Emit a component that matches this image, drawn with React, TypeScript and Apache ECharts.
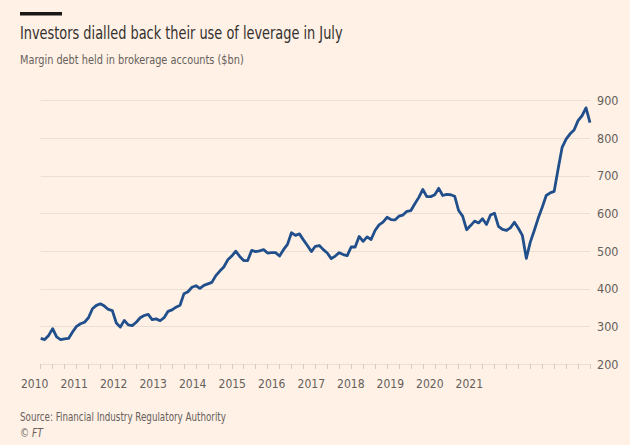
import React, { useEffect, useRef } from "react";
import * as echarts from "echarts";

// Year tick labels (as printed under the axis)
const yearLabels = ["2010", "2011", "2012", "2013", "2014", "2015", "2016", "2017", "2018", "2019", "2020", "2021"];

// Monthly margin debt ($bn), Jan 2010 – Jul 2021
const marginDebt = [
  268, 265, 276, 294, 272, 265, 267, 268, 285, 300, 307, 311,
  323, 347, 356, 360, 354, 345, 342, 309, 298, 316, 304, 302,
  311, 323, 329, 332, 318, 320, 315, 323, 340, 344, 351, 356,
  387, 392, 404, 408, 401, 409, 413, 417, 435, 447, 458, 477,
  487, 500, 486, 475, 475, 502, 499, 501, 504, 495, 496, 496,
  487, 504, 518, 549, 542, 546, 530, 515, 499, 513, 515, 504,
  495, 480, 487, 496, 491, 488, 511, 511, 539, 526, 538, 531,
  555, 570, 577, 590, 584, 583, 593, 596, 606, 608, 626, 643,
  664, 645, 645, 650, 667, 648, 651, 650, 646, 608, 593, 557,
  568, 580, 575, 586, 571, 596, 601, 566, 558, 555, 562, 577,
  561, 542, 481, 524, 555, 588, 617, 648, 655, 659, 719, 776,
  798, 812, 822, 847, 860, 881, 842,
];

const monthCategories: string[] = [];
for (let y = 2010; y <= 2021; y++) {
  for (let m = 1; m <= 12; m++) {
    if (monthCategories.length >= marginDebt.length) break;
    monthCategories.push(`${y}-${String(m).padStart(2, "0")}`);
  }
}

const yMin = 200;
const yMax = 900;
const yStep = 100;

const FONT = "'DejaVu Sans Condensed', Lato, sans-serif";
const BG = "#fff1e5";
const GREY = "#66605c";

export default function App() {
  const ref = useRef<HTMLDivElement>(null);
  useEffect(() => {
    if (!ref.current) return;
    const chart = echarts.init(ref.current, undefined, { renderer: "svg" });
    chart.setOption({
      animation: false,
      backgroundColor: BG,
      grid: [
        { left: 40.7, right: 40, top: 100.7, bottom: 81, containLabel: false },
        { left: 34.7, right: 160.7, top: 100.7, bottom: 81, containLabel: false },
      ],
      xAxis: [
        {
          type: "category",
          gridIndex: 0,
          data: monthCategories,
          boundaryGap: false,
          axisLine: { show: false },
          axisTick: { show: true, interval: 2, length: 5, lineStyle: { color: "#d8ccc1", width: 1 } },
          axisLabel: { show: false },
          splitLine: { show: false },
        },
        {
          type: "category",
          gridIndex: 1,
          data: yearLabels,
          boundaryGap: false,
          axisLine: { show: false },
          axisTick: { show: false },
          axisLabel: { show: true, interval: 0, margin: 14, color: GREY, fontSize: 12, fontFamily: FONT },
          splitLine: { show: false },
        },
      ],
      yAxis: [
        {
          type: "value",
          gridIndex: 0,
          position: "right",
          min: yMin,
          max: yMax,
          interval: yStep,
          axisLine: { show: false },
          axisTick: { show: false },
          axisLabel: { margin: 7, color: GREY, fontSize: 12.5, fontFamily: FONT },
          splitLine: { show: true, lineStyle: { color: "#ebdfd3", width: 1 } },
        },
        {
          type: "value",
          gridIndex: 1,
          min: yMin,
          max: yMax,
          show: false,
        },
      ],
      series: [
        {
          type: "line",
          xAxisIndex: 0,
          yAxisIndex: 0,
          data: marginDebt,
          showSymbol: false,
          symbol: "none",
          lineStyle: { color: "#204f8b", width: 2.8, join: "round" },
        },
      ],
      graphic: [
        { type: "rect", shape: { x: 20, y: 12, width: 42, height: 3.5 }, style: { fill: "#1a1817" } },
        {
          type: "text",
          x: 20,
          y: 33.5,
          scaleX: 0.845,
          style: {
            text: "Investors dialled back their use of leverage in July",
            fill: "#33302e",
            font: `17px ${FONT}`,
            verticalAlign: "middle",
          },
        },
        {
          type: "text",
          x: 20,
          y: 60,
          scaleX: 0.835,
          style: {
            text: "Margin debt held in brokerage accounts ($bn)",
            fill: GREY,
            font: `13px ${FONT}`,
            verticalAlign: "middle",
          },
        },
        {
          type: "text",
          x: 20,
          y: 417,
          scaleX: 0.81,
          style: {
            text: "Source: Financial Industry Regulatory Authority",
            fill: GREY,
            font: `12px ${FONT}`,
            verticalAlign: "middle",
          },
        },
        {
          type: "text",
          x: 20,
          y: 433,
          scaleX: 0.85,
          style: {
            text: "© FT",
            fill: GREY,
            font: `italic 12px ${FONT}`,
            verticalAlign: "middle",
          },
        },
      ],
    });
    return () => chart.dispose();
  }, []);
  return (
    <div
      ref={ref}
      style={{ position: "fixed", left: 0, top: 0, width: 630, height: 445, background: BG }}
    />
  );
}
